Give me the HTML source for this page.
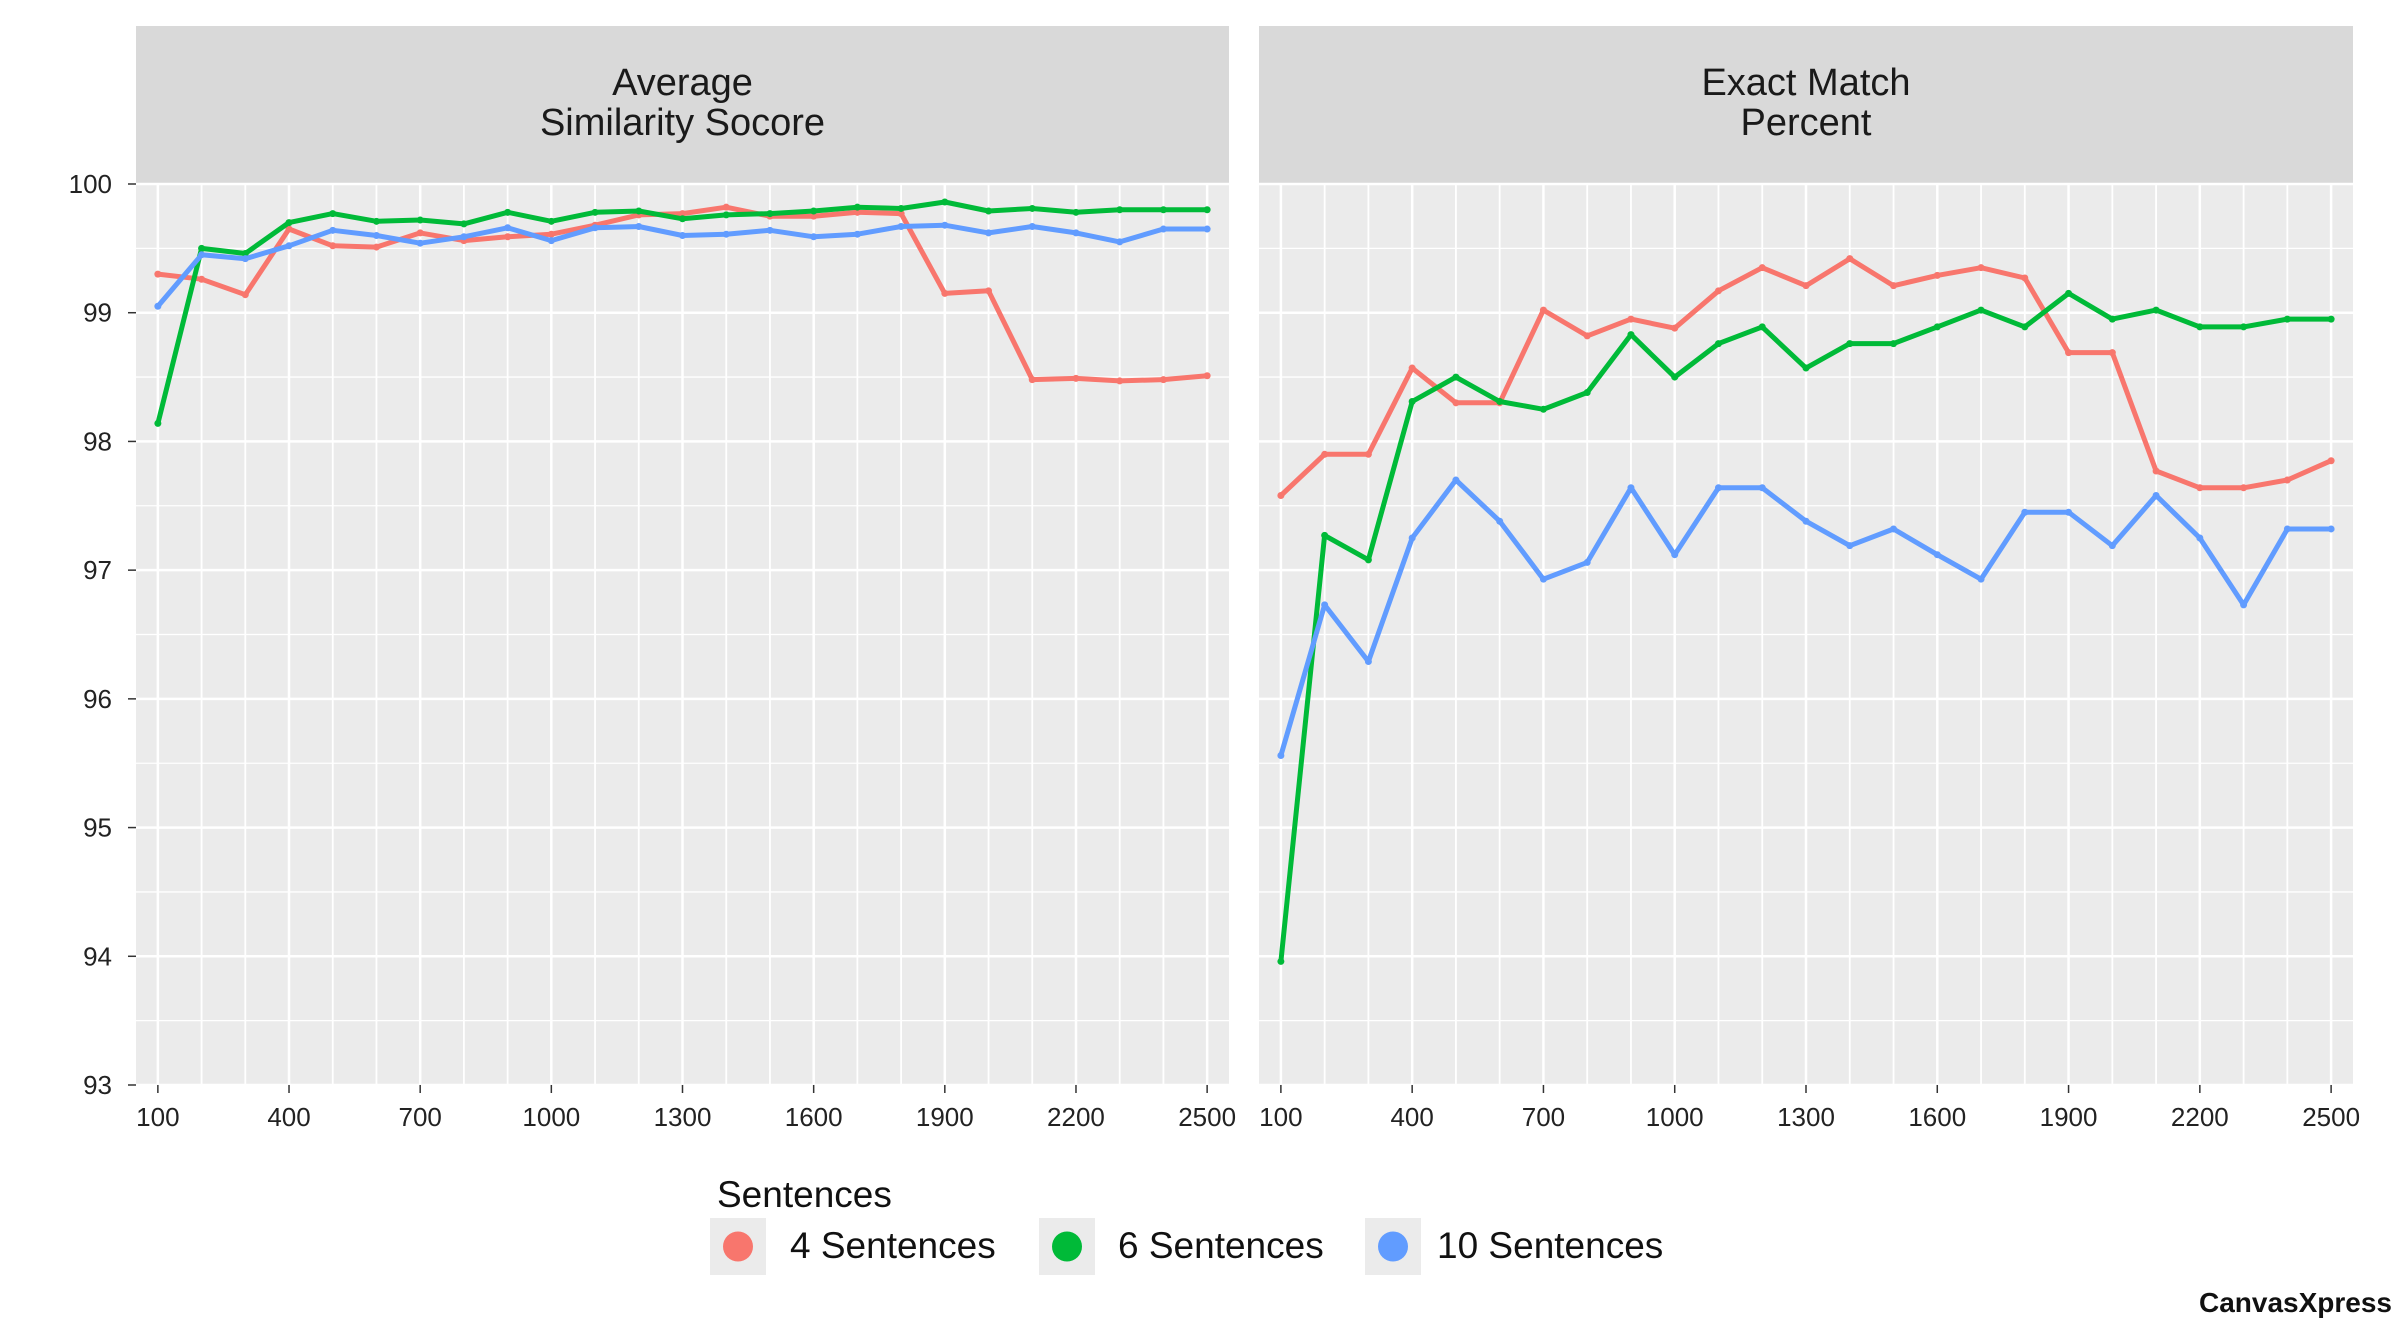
<!DOCTYPE html>
<html><head><meta charset="utf-8"><style>
html,body{margin:0;padding:0;background:#fff;}
svg{display:block;font-family:"Liberation Sans",Arial,sans-serif;}
</style></head><body>
<svg id="chart" width="2402" height="1324" viewBox="0 0 2402 1324" xmlns="http://www.w3.org/2000/svg">
</svg>
<script>
const xCategories = [100,200,300,400,500,600,700,800,900,1000,1100,1200,1300,1400,1500,1600,1700,1800,1900,2000,2100,2200,2300,2400,2500];
const xTickLabels = [100,400,700,1000,1300,1600,1900,2200,2500];
const yTickLabels = [93,94,95,96,97,98,99,100];
const seriesNames = ["4 Sentences","6 Sentences","10 Sentences"];
const panelTitles = [["Average","Similarity Socore"],["Exact Match","Percent"]];
const simRed = [99.3,99.26,99.14,99.65,99.52,99.51,99.62,99.56,99.59,99.61,99.68,99.76,99.77,99.82,99.75,99.75,99.78,99.77,99.15,99.17,98.48,98.49,98.47,98.48,98.51];
const simGreen = [98.14,99.5,99.46,99.7,99.77,99.71,99.72,99.69,99.78,99.71,99.78,99.79,99.73,99.76,99.77,99.79,99.82,99.81,99.86,99.79,99.81,99.78,99.8,99.8,99.8];
const simBlue = [99.05,99.45,99.42,99.52,99.64,99.6,99.54,99.59,99.66,99.56,99.66,99.67,99.6,99.61,99.64,99.59,99.61,99.67,99.68,99.62,99.67,99.62,99.55,99.65,99.65];
const exRed = [97.58,97.9,97.9,98.57,98.3,98.3,99.02,98.82,98.95,98.88,99.17,99.35,99.21,99.42,99.21,99.29,99.35,99.27,98.69,98.69,97.77,97.64,97.64,97.7,97.85];
const exGreen = [93.96,97.27,97.08,98.31,98.5,98.31,98.25,98.38,98.83,98.5,98.76,98.89,98.57,98.76,98.76,98.89,99.02,98.89,99.15,98.95,99.02,98.89,98.89,98.95,98.95];
const exBlue = [95.56,96.73,96.29,97.25,97.7,97.38,96.93,97.06,97.64,97.12,97.64,97.64,97.38,97.19,97.32,97.12,96.93,97.45,97.45,97.19,97.58,97.25,96.73,97.32,97.32];

const colors = ["#F8766D","#00BA38","#619CFF"];
const NS="http://www.w3.org/2000/svg";
const svg=document.getElementById('chart');
function mk(tag,attrs,parent){const e=document.createElementNS(NS,tag);for(const k in attrs)e.setAttribute(k,attrs[k]);(parent||svg).appendChild(e);return e;}
const plotTop=184, plotBot=1085, yMin=93, yMax=100;
function yScale(v){return plotBot-(v-yMin)/(yMax-yMin)*(plotBot-plotTop);}
const panels=[{x0:136,x1:1229,data:[simRed,simGreen,simBlue],key:'similarity'},{x0:1259,x1:2353,data:[exRed,exGreen,exBlue],key:'exact-match'}];
const xDomMin=50,xDomMax=2550;
panels.forEach((p,pi)=>{
  const xs=v=>p.x0+(v-xDomMin)/(xDomMax-xDomMin)*(p.x1-p.x0);
  const g=mk('g',{});
  
  
  const strip=mk('rect',{x:p.x0,y:26,width:p.x1-p.x0,height:plotTop-26,fill:'#D9D9D9'},g);
  
  
  const cx=(p.x0+p.x1)/2;
  panelTitles[pi].forEach((t,i)=>{
    const tx=mk('text',{x:cx,y:95+i*40,'text-anchor':'middle','font-size':38,fill:'#1a1a1a'},g);
    tx.textContent=t;
    
    
  });
  const bg=mk('rect',{x:p.x0,y:plotTop,width:p.x1-p.x0,height:plotBot-plotTop,fill:'#EBEBEB'},g);
  
  
  for(let v=yMin;v<=yMax;v+=0.5){
    const l=mk('line',{x1:p.x0,x2:p.x1,y1:yScale(v),y2:yScale(v),stroke:'#fff','stroke-width':Number.isInteger(v)?2.5:1.3},g);
    
    
  }
  xCategories.forEach(c=>{
    const l=mk('line',{x1:xs(c),x2:xs(c),y1:plotTop,y2:plotBot,stroke:'#fff','stroke-width':xTickLabels.includes(c)?2.5:1.8},g);
    
    
  });
  xTickLabels.forEach(c=>{
    const tk=mk('line',{x1:xs(c),x2:xs(c),y1:plotBot,y2:plotBot+8,stroke:'#333','stroke-width':1.5},g);
    
    
    const t=mk('text',{x:xs(c),y:plotBot+41,'text-anchor':'middle','font-size':26,fill:'#222'},g);
    t.textContent=c;
    
    
  });
  if(pi===0){
    yTickLabels.forEach(v=>{
      const tk=mk('line',{x1:p.x0-8,x2:p.x0,y1:yScale(v),y2:yScale(v),stroke:'#333','stroke-width':1.5},g);
      
      
      const t=mk('text',{x:p.x0-24,y:yScale(v)+9,'text-anchor':'end','font-size':26,fill:'#222'},g);
      t.textContent=v;
      
      
    });
  }
  p.data.forEach((arr,si)=>{
    const pts=arr.map((v,i)=>xs(xCategories[i]).toFixed(1)+','+yScale(v).toFixed(1)).join(' ');
    const pl=mk('polyline',{points:pts,fill:'none',stroke:colors[si],'stroke-width':5,'stroke-linejoin':'round'},g);
    
    
    arr.forEach((v,i)=>{
      const c=mk('circle',{cx:xs(xCategories[i]),cy:yScale(v),r:3.5,fill:colors[si]},g);
      
      
    });
  });
});
// legend
const lt=mk('text',{x:717,y:1207,'font-size':37,fill:'#111'});
lt.textContent='Sentences';


const keyX=[710,1039,1365], labX=[790,1118,1437];
seriesNames.forEach((n,i)=>{
  const kg=mk('g',{});
  
  
  mk('rect',{x:keyX[i],y:1218,width:56,height:57,fill:'#EBEBEB'},kg);
  mk('circle',{cx:keyX[i]+28,cy:1246.5,r:15,fill:colors[i]},kg);
  const t=mk('text',{x:labX[i],y:1258,'font-size':37,fill:'#111'},kg);
  t.textContent=n;
});
const cxp=mk('text',{x:2392,y:1312,'text-anchor':'end','font-size':28,'font-weight':'600',fill:'#111'});
cxp.textContent='CanvasXpress';


</script>
</body></html>
